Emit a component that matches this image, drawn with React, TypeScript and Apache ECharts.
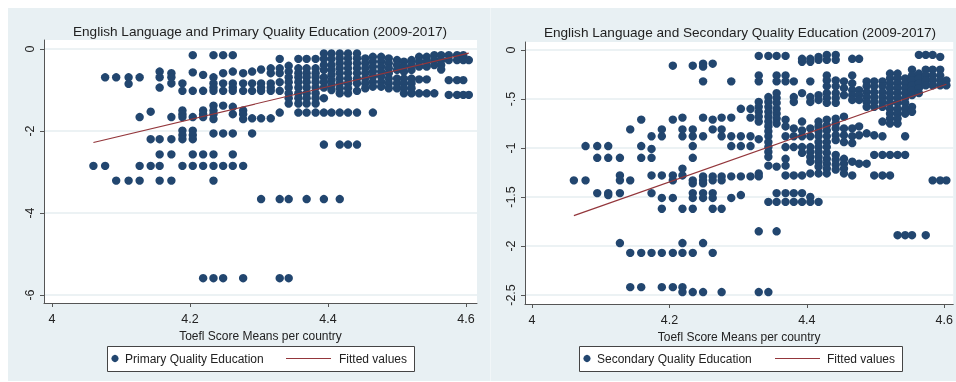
import React, { useEffect, useRef } from "react";
import * as echarts from "echarts";

// ---------- Data ----------
const xTicks = [4, 4.2, 4.4, 4.6];
const primaryYTicks = [-6, -4, -2, 0];
const secondaryYTicks = [-2.5, -2, -1.5, -1, -0.5, 0];

const titles = [
  "English Language and Primary Quality Education (2009-2017)",
  "English Language and Secondary Quality Education (2009-2017)",
];
const xAxisTitle = "Toefl Score Means per country";
const seriesNames = ["Primary Quality Education", "Secondary Quality Education", "Fitted values"];

// Primary Quality Education: [toefl mean, list of y values at that x]
const primaryCols: [number, number[]][] = [
  [4.06, [-2.85]],
  [4.077, [-0.69, -2.85]],
  [4.093, [-0.69, -3.21]],
  [4.111, [-0.69, -0.85, -3.21]],
  [4.127, [-0.69, -1.66, -2.85, -3.21]],
  [4.143, [-1.53, -2.2, -2.85]],
  [4.156, [-0.55, -0.69, -0.94, -2.2, -2.57, -2.85, -3.21]],
  [4.173, [-0.59, -0.69, -0.84, -1.66, -2.2, -2.57, -3.21]],
  [4.189, [-0.84, -1.02, -1.5, -1.59, -1.66, -1.99, -2.1, -2.2, -2.85]],
  [4.204, [-0.15, -0.57, -1.02, -1.66, -1.99, -2.1, -2.2, -2.57, -2.85]],
  [4.219, [-0.63, -1.02, -1.5, -1.59, -1.66, -2.57, -2.85, -5.59]],
  [4.234, [-0.15, -0.69, -0.84, -0.94, -1.02, -1.38, -1.5, -1.59, -1.71, -2.06, -2.57, -2.85, -3.21, -5.59]],
  [4.248, [-0.15, -0.59, -0.84, -1.02, -1.38, -2.06, -2.85, -5.59]],
  [4.262, [-0.15, -0.55, -0.84, -0.94, -1.02, -1.41, -1.59, -2.06, -2.57, -2.85]],
  [4.277, [-0.59, -0.84, -1.02, -1.5, -1.59, -1.71, -2.85, -5.59]],
  [4.29, [-0.55, -0.84, -1.02, -1.69, -2.06]],
  [4.303, [-0.5, -0.84, -0.94, -1.02, -1.69, -3.66]],
  [4.317, [-0.47, -0.59, -0.84, -0.94, -1.02, -1.69]],
  [4.33, [-0.24, -0.47, -0.59, -0.81, -1.02, -1.55, -3.66, -5.59]],
  [4.343, [-0.41, -0.55, -0.69, -0.81, -0.94, -1.08, -1.2, -1.33, -3.66, -5.59]],
  [4.357, [-0.24, -0.47, -0.59, -0.69, -0.81, -0.94, -1.08, -1.2, -1.33, -1.55]],
  [4.369, [-0.24, -0.47, -0.59, -0.69, -0.81, -0.94, -1.08, -1.2, -1.33, -1.55, -3.66]],
  [4.382, [-0.24, -0.47, -0.59, -0.69, -0.81, -0.94, -1.08, -1.2, -1.33, -1.55]],
  [4.394, [-0.11, -0.24, -0.39, -0.51, -0.69, -0.81, -0.94, -1.2, -1.55, -2.33, -3.66]],
  [4.405, [-0.11, -0.24, -0.39, -0.51, -0.63, -0.76, -0.88, -1.0, -1.55]],
  [4.417, [-0.11, -0.23, -0.35, -0.47, -0.59, -0.72, -0.84, -0.96, -1.08, -1.55, -2.33, -3.66]],
  [4.429, [-0.11, -0.23, -0.35, -0.47, -0.59, -0.72, -0.84, -0.96, -1.08, -1.55, -2.33]],
  [4.442, [-0.11, -0.23, -0.35, -0.47, -0.59, -0.72, -0.84, -1.02, -1.55, -2.33]],
  [4.454, [-0.23, -0.35, -0.47, -0.59, -0.72, -0.84, -0.96]],
  [4.465, [-0.19, -0.31, -0.43, -0.55, -0.67, -0.8, -0.92, -1.55]],
  [4.477, [-0.19, -0.31, -0.43, -0.55, -0.67, -0.8, -0.92]],
  [4.488, [-0.23, -0.35, -0.47, -0.59, -0.72, -0.84, -0.96]],
  [4.5, [-0.27, -0.39, -0.51, -0.72, -0.84, -0.96]],
  [4.51, [-0.31, -0.43, -0.55, -0.72, -0.84, -0.96, -1.08]],
  [4.521, [-0.27, -0.39, -0.51, -0.72, -0.84, -0.96, -1.08]],
  [4.532, [-0.19, -0.31, -0.43, -0.74, -1.08]],
  [4.543, [-0.19, -0.31, -0.43, -0.74, -1.08]],
  [4.554, [-0.15, -0.27, -0.39, -1.08]],
  [4.564, [-0.15, -0.27, -0.39, -0.5]],
  [4.575, [-0.15, -0.27, -0.76, -1.12]],
  [4.587, [-0.15, -0.27, -0.76, -1.12]],
  [4.596, [-0.15, -0.27, -0.76, -1.12]],
  [4.604, [-0.27, -1.12]],
];

// Secondary Quality Education
const secondaryCols: [number, number[]][] = [
  [4.061, [-1.33]],
  [4.078, [-0.98, -1.33]],
  [4.095, [-0.98, -1.1, -1.46]],
  [4.111, [-0.98, -1.1, -1.46, -1.48]],
  [4.128, [-1.1, -1.28, -1.33, -1.46, -1.97]],
  [4.143, [-0.81, -1.33, -2.07, -2.42]],
  [4.159, [-0.71, -0.98, -1.1, -2.07, -2.42]],
  [4.174, [-0.88, -1.01, -1.1, -1.28, -1.46, -2.07]],
  [4.189, [-0.81, -0.88, -1.28, -1.51, -1.62, -2.07, -2.42]],
  [4.205, [-0.16, -0.71, -1.28, -1.33, -1.51, -2.07, -2.42]],
  [4.219, [-0.69, -0.81, -0.88, -1.21, -1.28, -1.62, -1.97, -2.07, -2.42, -2.47]],
  [4.234, [-0.16, -0.81, -0.88, -0.98, -1.1, -1.33, -1.36, -1.46, -1.51, -1.62, -2.07, -2.47]],
  [4.249, [-0.14, -0.17, -0.32, -0.69, -0.88, -1.29, -1.33, -1.36, -1.46, -1.51, -1.97, -2.47]],
  [4.263, [-0.14, -0.71, -0.81, -1.29, -1.33, -1.46, -1.51, -1.62, -2.07]],
  [4.276, [-0.69, -0.81, -0.88, -1.29, -1.33, -1.62, -2.47]],
  [4.29, [-0.32, -0.69, -0.88, -0.98, -1.29, -1.51]],
  [4.304, [-0.6, -0.88, -0.98, -1.29, -1.48]],
  [4.318, [-0.6, -0.69, -0.88, -0.98, -1.29]],
  [4.33, [-0.06, -0.26, -0.32, -0.53, -0.58, -0.63, -0.68, -0.73, -0.91, -1.26, -1.29, -1.85, -2.47]],
  [4.344, [-0.06, -0.48, -0.53, -0.58, -0.63, -0.68, -0.73, -0.78, -0.83, -0.88, -0.94, -0.99, -1.04, -1.09, -1.18, -1.55, -2.47]],
  [4.356, [-0.06, -0.26, -0.32, -0.44, -0.49, -0.54, -0.6, -0.65, -0.7, -0.75, -1.19, -1.46, -1.55, -1.85]],
  [4.369, [-0.06, -0.26, -0.32, -0.71, -0.78, -0.88, -0.99, -1.11, -1.18, -1.28, -1.46, -1.55]],
  [4.381, [-0.32, -0.48, -0.53, -0.8, -0.88, -0.99, -1.28, -1.46, -1.55]],
  [4.393, [-0.09, -0.12, -0.44, -0.73, -0.82, -0.88, -0.99, -1.05, -1.28, -1.46, -1.55]],
  [4.405, [-0.09, -0.12, -0.32, -0.48, -0.53, -0.8, -0.88, -0.99, -1.04, -1.09, -1.14, -1.26, -1.5, -1.55]],
  [4.417, [-0.07, -0.1, -0.46, -0.51, -0.73, -0.78, -0.83, -0.88, -0.94, -0.99, -1.04, -1.09, -1.14, -1.19, -1.26, -1.55]],
  [4.429, [-0.05, -0.1, -0.26, -0.31, -0.37, -0.44, -0.49, -0.54, -0.71, -0.77, -0.82, -0.88, -0.94, -0.99, -1.05, -1.11, -1.16, -1.21, -1.26]],
  [4.442, [-0.05, -0.1, -0.31, -0.37, -0.44, -0.49, -0.54, -0.7, -0.75, -0.8, -0.87, -0.92, -1.07, -1.12, -1.17, -1.22]],
  [4.454, [-0.32, -0.39, -0.46, -0.68, -0.8, -0.87, -0.94, -1.11, -1.16, -1.21, -1.26]],
  [4.466, [-0.09, -0.26, -0.34, -0.41, -0.46, -0.51, -0.8, -0.88, -0.95, -1.14, -1.28]],
  [4.476, [-0.09, -0.41, -0.46, -0.51, -0.78, -0.87, -1.16]],
  [4.487, [-0.32, -0.37, -0.43, -0.48, -0.53, -0.58, -0.85, -1.16]],
  [4.498, [-0.32, -0.37, -0.43, -0.48, -0.53, -0.58, -0.87, -1.07, -1.28]],
  [4.51, [-0.32, -0.37, -0.43, -0.48, -0.53, -0.58, -0.73, -0.88, -1.07, -1.28]],
  [4.521, [-0.24, -0.29, -0.34, -0.39, -0.44, -0.49, -0.54, -0.6, -0.65, -0.7, -0.75, -1.07, -1.28]],
  [4.532, [-0.24, -0.29, -0.34, -0.39, -0.44, -0.49, -0.54, -0.6, -0.65, -0.7, -0.75, -1.07, -1.89]],
  [4.543, [-0.29, -0.34, -0.39, -0.44, -0.49, -0.54, -0.6, -0.65, -0.88, -1.07, -1.89]],
  [4.553, [-0.2, -0.26, -0.31, -0.36, -0.41, -0.46, -0.58, -0.63, -1.89]],
  [4.563, [-0.05, -0.24, -0.29, -0.34, -0.39, -0.44]],
  [4.573, [-0.05, -0.2, -0.26, -0.31, -0.36, -1.89]],
  [4.583, [-0.05, -0.2, -0.26, -0.31, -0.36, -1.33]],
  [4.594, [-0.07, -0.2, -0.26, -0.31, -0.36, -1.33]],
  [4.603, [-0.31, -0.36, -1.33]],
];

// Fitted values (linear fit endpoints)
const primaryFit: [number, number][] = [
  [4.06, -2.28],
  [4.604, -0.1],
];
const secondaryFit: [number, number][] = [
  [4.061, -1.69],
  [4.603, -0.35],
];

// ---------- Styling ----------
const NAVY = "#22466f";
const MAROON = "#93363b";
const BG = "#e8f0f3";
const AXIS = "#555555";
const TEXT = "#222222";
const FONT = "'Liberation Sans', Arial, Helvetica, sans-serif";

const flatten = (cols: [number, number[]][]) =>
  cols.flatMap(([x, ys]) => ys.map((y) => [x, y]));

const fmtX = (v: number) => String(Math.round(v * 10) / 10);
const fmtY = (v: number) => {
  const r = Math.round(v * 10) / 10;
  if (r === 0) return "0";
  const s = String(r);
  return s.replace(/^(-?)0\./, "$1.");
};

function xAxisCfg(gridIndex: number, min: number, max: number) {
  return {
    type: "value",
    gridIndex,
    min,
    max,
    name: xAxisTitle,
    nameLocation: "middle",
    nameGap: 22,
    nameTextStyle: { fontSize: 12, color: TEXT, fontFamily: FONT },
    axisLine: { show: true, onZero: false, lineStyle: { color: AXIS, width: 1 } },
    axisTick: { show: true, length: 4, customValues: xTicks, lineStyle: { color: AXIS } },
    axisLabel: {
      customValues: xTicks,
      formatter: fmtX,
      fontSize: 12.5,
      color: TEXT,
      fontFamily: FONT,
      margin: 9,
    },
    splitLine: { show: false },
  };
}

function yAxisCfg(gridIndex: number, min: number, max: number, ticks: number[]) {
  return {
    type: "value",
    gridIndex,
    min,
    max,
    axisLine: { show: true, onZero: false, lineStyle: { color: AXIS, width: 1 } },
    axisTick: { show: true, length: 4, customValues: ticks, lineStyle: { color: AXIS } },
    axisLabel: {
      customValues: ticks,
      formatter: fmtY,
      rotate: 90,
      fontSize: 12.5,
      color: TEXT,
      fontFamily: FONT,
      margin: 8,
    },
    splitLine: { show: true, lineStyle: { color: "#e6eef1", width: 1.5 } },
  };
}

function legendGraphic(
  x: number,
  y: number,
  w: number,
  h: number,
  label: string,
  lineX: number,
  fitX: number
) {
  const cy = y + h / 2;
  return {
    type: "group",
    z: 10,
    children: [
      {
        type: "rect",
        shape: { x: x + 0.5, y: y + 0.5, width: w, height: h },
        style: { fill: "#ffffff", stroke: "#444444", lineWidth: 1 },
      },
      {
        type: "circle",
        shape: { cx: x + 8, cy, r: 3.6 },
        style: { fill: NAVY },
      },
      {
        type: "text",
        x: x + 18,
        y: cy,
        style: {
          text: label,
          fontSize: 12,
          fontFamily: FONT,
          fill: TEXT,
          verticalAlign: "middle",
          align: "left",
        },
      },
      {
        type: "line",
        shape: { x1: lineX, y1: cy, x2: lineX + 45, y2: cy },
        style: { stroke: MAROON, lineWidth: 1.2 },
      },
      {
        type: "text",
        x: fitX,
        y: cy,
        style: {
          text: seriesNames[2],
          fontSize: 12,
          fontFamily: FONT,
          fill: TEXT,
          verticalAlign: "middle",
          align: "left",
        },
      },
    ],
  };
}

export default function App() {
  const ref = useRef<HTMLDivElement>(null);

  useEffect(() => {
    if (!ref.current) return;
    const chart = echarts.init(ref.current, undefined, { renderer: "svg" });

    const option: any = {
      animation: false,
      backgroundColor: "transparent",
      textStyle: { fontFamily: FONT },
      title: [
        {
          text: titles[0],
          left: 260,
          top: 24,
          textAlign: "center",
          padding: 0,
          textStyle: { fontSize: 13.6, fontWeight: "normal", color: TEXT, fontFamily: FONT },
        },
        {
          text: titles[1],
          left: 740,
          top: 25,
          textAlign: "center",
          padding: 0,
          textStyle: { fontSize: 13.6, fontWeight: "normal", color: TEXT, fontFamily: FONT },
        },
      ],
      grid: [
        { left: 44, top: 40, width: 433, height: 263, show: true, backgroundColor: "#ffffff", borderWidth: 0 },
        { left: 525, top: 42, width: 430, height: 262, show: true, backgroundColor: "#ffffff", borderWidth: 0 },
      ],
      xAxis: [xAxisCfg(0, 3.9884, 4.6159), xAxisCfg(1, 3.9899, 4.613)],
      yAxis: [
        yAxisCfg(0, -6.1951, 0.2195, primaryYTicks),
        yAxisCfg(1, -2.5918, 0.0816, secondaryYTicks),
      ],
      graphic: [
        {
          type: "rect",
          z: -100,
          shape: { x: 8, y: 8, width: 948, height: 373 },
          style: { fill: BG },
        },
        {
          type: "line",
          z: -99,
          shape: { x1: 490.5, y1: 8, x2: 490.5, y2: 381 },
          style: { stroke: "#f1f6f8", lineWidth: 1 },
        },
        legendGraphic(107, 346, 307, 25, seriesNames[0], 286, 339),
        legendGraphic(579, 346, 323, 25, seriesNames[1], 775, 827),
      ],
      series: [
        {
          name: seriesNames[0],
          type: "scatter",
          xAxisIndex: 0,
          yAxisIndex: 0,
          symbol: "circle",
          symbolSize: 8.4,
          itemStyle: { color: NAVY, opacity: 1 },
          data: flatten(primaryCols),
          z: 2,
        },
        {
          name: seriesNames[2],
          type: "line",
          xAxisIndex: 0,
          yAxisIndex: 0,
          symbol: "none",
          lineStyle: { color: MAROON, width: 1.2 },
          data: primaryFit,
          z: 3,
        },
        {
          name: seriesNames[1],
          type: "scatter",
          xAxisIndex: 1,
          yAxisIndex: 1,
          symbol: "circle",
          symbolSize: 8.4,
          itemStyle: { color: NAVY, opacity: 1 },
          data: flatten(secondaryCols),
          z: 2,
        },
        {
          name: seriesNames[2] + " ",
          type: "line",
          xAxisIndex: 1,
          yAxisIndex: 1,
          symbol: "none",
          lineStyle: { color: MAROON, width: 1.2 },
          data: secondaryFit,
          z: 3,
        },
      ],
    };

    chart.setOption(option);
    return () => chart.dispose();
  }, []);

  return (
    <div
      ref={ref}
      style={{ position: "fixed", left: 0, top: 0, width: 956, height: 382 }}
    />
  );
}
